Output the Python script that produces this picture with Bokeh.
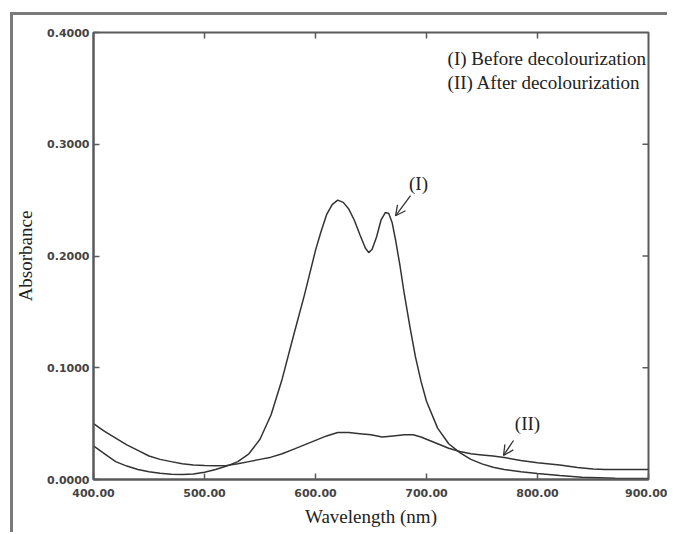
from bokeh.plotting import figure
from bokeh.models import (Range1d, LinearAxis, FixedTicker, PrintfTickFormatter,
                          Arrow, OpenHead)
from bokeh.core.properties import value
from bokeh.embed import file_html
from bokeh.resources import INLINE

# ---- data ----
wl_before = [400, 410, 420, 430, 440, 450, 460, 470, 480, 490, 500, 510, 520, 530,
             540, 550, 560, 570, 580, 590, 600, 605, 610, 615, 620, 625, 630, 635,
             640, 645, 648, 651, 655, 659, 663, 666, 669, 672, 676, 680, 685, 690,
             695, 700, 710, 720, 730, 740, 750, 760, 770, 785, 800, 820, 840, 870, 900]
abs_before = [0.030, 0.023, 0.016, 0.012, 0.009, 0.007, 0.0055, 0.0048, 0.0045, 0.005,
              0.0065, 0.009, 0.012, 0.016, 0.023, 0.036, 0.058, 0.090, 0.128, 0.165,
              0.205, 0.222, 0.237, 0.246, 0.250, 0.248, 0.242, 0.232, 0.219, 0.207,
              0.203, 0.206, 0.217, 0.232, 0.239, 0.238, 0.230, 0.215, 0.192, 0.166,
              0.137, 0.110, 0.088, 0.070, 0.046, 0.032, 0.024, 0.018, 0.014, 0.011,
              0.009, 0.007, 0.0054, 0.0035, 0.002, 0.0012, 0.001]

wl_after = [400, 410, 420, 430, 440, 450, 460, 470, 480, 490, 500, 510, 520, 530,
            540, 550, 560, 570, 580, 590, 600, 610, 620, 630, 640, 650, 660, 670,
            680, 688, 695, 700, 710, 720, 730, 740, 750, 760, 770, 785, 800, 820,
            836, 850, 861, 880, 900]
abs_after = [0.050, 0.043, 0.037, 0.031, 0.026, 0.021, 0.018, 0.016, 0.014, 0.013,
             0.0125, 0.0122, 0.0125, 0.014, 0.016, 0.018, 0.020, 0.023, 0.027, 0.031,
             0.035, 0.039, 0.042, 0.042, 0.041, 0.040, 0.038, 0.039, 0.040, 0.040,
             0.038, 0.036, 0.032, 0.028, 0.025, 0.023, 0.022, 0.021, 0.0197, 0.017,
             0.015, 0.013, 0.0107, 0.0095, 0.009, 0.009, 0.009]

x_ticks = [400, 500, 600, 700, 800, 900]
y_ticks = [0.0, 0.1, 0.2, 0.3, 0.4]
legend_lines = ["(I) Before decolourization", "(II) After decolourization"]

AXC = "#5a5a5a"
LINEC = "#333333"
SERIF = "Liberation Serif"
X0, X1, Y0, Y1 = 400, 900, 0.0, 0.4
FRAME_W, FRAME_H = 555, 447
TICK_PX = 6

p = figure(width=667, height=532, output_backend="svg", toolbar_location=None,
           x_range=Range1d(X0, X1), y_range=Range1d(Y0, Y1),
           min_border_left=93, min_border_right=19, min_border_top=32,
           min_border_bottom=53, x_axis_location=None, y_axis_location=None)
p.grid.visible = False
p.outline_line_color = AXC
p.outline_line_width = 2
p.background_fill_color = "white"
p.border_fill_color = None
# grey page border on the left and top (drawn behind the transparent canvas)
p.styles = {"background-color": "white",
            "box-shadow": "inset 10px 12px 0 0 white, inset 13px 15px 0 0 #7a7a7a"}

def style_axis(ax):
    ax.axis_line_color = AXC
    ax.axis_line_width = 2
    ax.major_tick_line_color = AXC
    ax.major_tick_line_width = 1.5
    ax.major_tick_in = TICK_PX
    ax.major_tick_out = 0
    ax.minor_tick_line_color = None
    ax.major_label_text_font = "DejaVu Sans"
    ax.major_label_text_font_style = "bold"
    ax.major_label_text_font_size = "11px"
    ax.major_label_text_color = "#444444"
    ax.axis_label_text_font = SERIF
    ax.axis_label_text_font_style = "normal"
    ax.axis_label_text_font_size = "19px"
    ax.axis_label_text_color = "#222222"

xb = LinearAxis(ticker=FixedTicker(ticks=x_ticks),
                formatter=PrintfTickFormatter(format="%.2f"),
                axis_label="Wavelength (nm)")
style_axis(xb)
xb.major_label_standoff = 9
xb.axis_label_standoff = 6
p.add_layout(xb, "below")

yl = LinearAxis(ticker=FixedTicker(ticks=y_ticks),
                formatter=PrintfTickFormatter(format="%.4f"),
                axis_label="Absorbance")
style_axis(yl)
yl.major_label_standoff = 4
yl.axis_label_standoff = 8
p.add_layout(yl, "left")

# inward ticks on the top and right frame edges
dy = TICK_PX * (Y1 - Y0) / FRAME_H
dx = TICK_PX * (X1 - X0) / FRAME_W
top_t = x_ticks[1:-1]
right_t = y_ticks[1:-1]
p.segment(x0=top_t, y0=[Y1] * len(top_t), x1=top_t, y1=[Y1 - dy] * len(top_t),
          line_color=AXC, line_width=1.5)
p.segment(x0=[X1] * len(right_t), y0=right_t, x1=[X1 - dx] * len(right_t), y1=right_t,
          line_color=AXC, line_width=1.5)

p.line(wl_before, abs_before, line_color=LINEC, line_width=1.5)
p.line(wl_after, abs_after, line_color=LINEC, line_width=1.5)

# legend texts
p.text(x=[719, 719], y=[0.3767, 0.3553], text=legend_lines,
       text_font=value(SERIF), text_font_size="19px", text_color="#222222",
       text_align="left", text_baseline="middle")

# curve labels + arrows
p.text(x=[692.8, 791], y=[0.265, 0.050], text=["(I)", "(II)"],
       text_font=value(SERIF), text_font_size="19px", text_color="#222222",
       text_align="center", text_baseline="middle")
p.add_layout(Arrow(end=OpenHead(size=10, line_color=LINEC, line_width=1.3),
                   x_start=685.6, y_start=0.254, x_end=672.1, y_end=0.236,
                   line_color=LINEC, line_width=1.3))
p.add_layout(Arrow(end=OpenHead(size=10, line_color=LINEC, line_width=1.3),
                   x_start=778.4, y_start=0.0349, x_end=769.4, y_end=0.0215,
                   line_color=LINEC, line_width=1.3))

open("out.html", "w").write(file_html(p, INLINE))
